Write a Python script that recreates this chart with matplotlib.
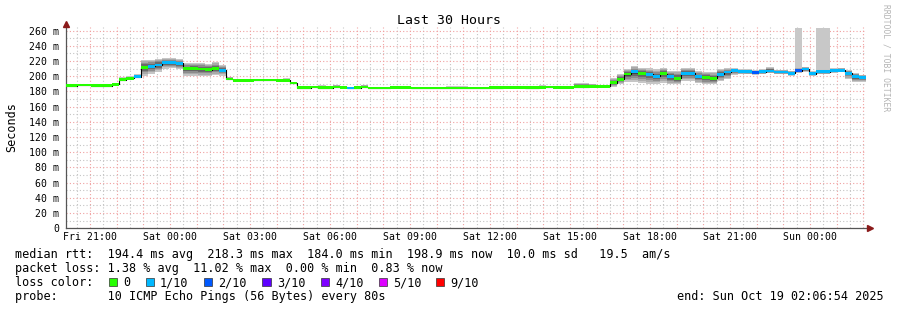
import numpy as np
import matplotlib
matplotlib.use('Agg')
import matplotlib.pyplot as plt
from matplotlib.patches import Rectangle

plt.rcParams['font.family'] = ['DejaVu Sans Mono', 'DejaVu Sans']

W, H = 897, 310

# ---------------- data ----------------
title = "Last 30 Hours"
ylabel = "Seconds"
t_end = 50 + 6 / 60 + 54 / 3600          # hours since Fri 00:00 (Sun 02:06:54)
t_start = t_end - 30
bin_start = 19.967                         # first 16-min consolidation bin (hours)
bin_hours = 16 / 60

median_ms = [
    187.5, 187.5, 188.5, 188.5, 187.5, 187.5, 187.5, 189.5, 195.5, 197.5,
    199.5, 212.0, 213.0, 215.0, 218.0, 218.3, 217.0, 210.0, 210.0, 209.5,
    208.5, 210.0, 208.0, 196.5, 194.5, 194.5, 194.5, 195.0, 195.0, 195.0,
    194.5, 194.5, 191.0, 185.0, 185.0, 186.0, 185.0, 185.0, 186.0, 185.5,
    184.5, 185.0, 186.0, 184.5, 184.5, 184.5, 185.5, 185.5, 185.5, 184.5,
    184.5, 184.5, 184.5, 184.5, 184.5, 184.5, 184.5, 184.5, 184.5, 184.5,
    185.0, 185.0, 185.5, 185.5, 185.5, 185.0, 185.0, 185.5, 186.0, 185.5,
    185.5, 185.5, 186.5, 186.5, 187.0, 187.0, 187.0, 191.5, 196.0, 203.0,
    206.0, 203.5, 202.5, 200.0, 203.5, 199.5, 197.5, 204.0, 204.0, 199.5,
    198.5, 197.5, 202.5, 205.5, 207.5, 206.5, 206.0, 205.0, 206.0, 207.0,
    205.5, 205.5, 204.0, 207.5, 209.5, 203.5, 206.0, 206.0, 207.5, 208.0,
    204.0, 199.5, 198.0,
]
loss_tenths = [
    0, 0, 0, 0, 0, 0, 0, 0, 0, 0,
    1, 0, 1, 1, 1, 1, 1, 0, 0, 0,
    0, 0, 1, 0, 0, 0, 0, 0, 0, 0,
    0, 0, 0, 0, 0, 0, 0, 0, 0, 0,
    1, 0, 0, 0, 0, 0, 0, 0, 0, 0,
    0, 0, 0, 0, 0, 0, 0, 0, 0, 0,
    0, 0, 0, 0, 0, 0, 0, 0, 0, 0,
    0, 0, 0, 0, 0, 0, 0, 0, 0, 0,
    1, 0, 1, 1, 0, 1, 0, 1, 1, 1,
    0, 0, 1, 1, 1, 1, 1, 2, 1, 1,
    1, 1, 1, 2, 1, 1, 1, 1, 1, 1,
    1, 1, 1,
]
smoke_up = [
    1.5, 3, 2, 2, 1.5, 1.5, 1.5, 2, 3, 2.5,
    3, 10, 9, 8, 6, 5.5, 6, 7, 8, 8,
    8, 9, 7, 3, 1, 1, 1, 1.5, 1.5, 1,
    1, 3, 1, 1, 1, 1.5, 3, 1, 3, 1,
    1, 1, 3, 1, 1, 1, 2, 2, 2, 1,
    1, 1, 1, 1, 2.5, 2.5, 2.5, 1, 1, 1,
    1, 2.5, 1, 1, 1, 2.5, 2.5, 2.5, 1, 1,
    1, 1.5, 5, 5, 3, 2, 2, 6, 7, 7,
    7, 8, 8, 9, 8, 8, 10, 7, 7, 7,
    7, 8, 7, 5, 3, 3, 3, 3, 3, 5,
    3, 3, 3, 4, 3, 3, 3, 3, 3, 3,
    4, 5, 4,
]
smoke_dn = [
    1, 1, 1, 1, 1, 1, 1, 1, 1.5, 1.5,
    2, 11, 10, 9, 8, 8, 8, 9, 9, 9,
    8, 8, 7, 1.5, 0.5, 0.5, 0.5, 0.5, 0.5, 0.5,
    0.5, 0.5, 0.5, 0.5, 0.5, 0.5, 0.5, 0.5, 0.5, 0.5,
    0.5, 0.5, 0.5, 0.5, 0.5, 0.5, 0.5, 0.5, 0.5, 0.5,
    0.5, 0.5, 0.5, 0.5, 0.5, 0.5, 0.5, 0.5, 0.5, 0.5,
    0.5, 0.5, 0.5, 0.5, 0.5, 0.5, 0.5, 1, 0.5, 0.5,
    0.5, 0.5, 2, 2, 1, 0.5, 1, 5, 6, 10,
    13, 12, 12, 10, 12, 10, 8, 10, 10, 8,
    9, 8, 9, 9, 6, 4, 3, 3, 3, 3,
    3, 3, 3, 3, 4, 3, 3, 3, 3, 3,
    7, 7, 5,
]
outlier_max_ms = {103: 264, 106: 264, 107: 264}

loss_colors = {0: '#26ff00', 1: '#00b8ff', 2: '#0059ff', 3: '#5e00ff',
               4: '#7e00ff', 5: '#dd00ff', 9: '#ff0000'}
loss_labels = ['0', '1/10', '2/10', '3/10', '4/10', '5/10', '9/10']
loss_keys = [0, 1, 2, 3, 4, 5, 9]

tick_hours = [21, 24, 27, 30, 33, 36, 39, 42, 45, 48]
tick_labels = ["Fri 21:00", "Sat 00:00", "Sat 03:00", "Sat 06:00", "Sat 09:00",
               "Sat 12:00", "Sat 15:00", "Sat 18:00", "Sat 21:00", "Sun 00:00"]
y_ticks = list(range(0, 261, 20))
y_tick_labels = ["0"] + [f"{v} m" for v in y_ticks[1:]]

rtt_line = "median rtt:  194.4 ms avg  218.3 ms max  184.0 ms min  198.9 ms now  10.0 ms sd   19.5  am/s"
loss_line = "packet loss: 1.38 % avg  11.02 % max  0.00 % min  0.83 % now"
probe_line = "probe:       10 ICMP Echo Pings (56 Bytes) every 80s"
end_line = "end: Sun Oct 19 02:06:54 2025"
watermark = "RRDTOOL / TOBI OETIKER"

# ---------------- figure ----------------
fig = plt.figure(figsize=(W / 100, H / 100), dpi=100, facecolor='white')

def fx(x):
    return x / W

def fy(y):
    return 1 - y / H

ax_l, ax_r, ax_t, ax_b = 66.4, 866.4, 26.5, 228.3
ax = fig.add_axes([fx(ax_l), fy(ax_b), (ax_r - ax_l) / W, (ax_b - ax_t) / H])
ax.set_facecolor('white')
ax.set_xlim(t_start, t_end)
ax.set_ylim(0, 265.5)

n = len(median_ms)
med = np.array(median_ms, dtype=float)
up = np.array(smoke_up, dtype=float)
dn = np.array(smoke_dn, dtype=float)
starts = bin_start + np.arange(n) * bin_hours
edges = np.append(starts, starts[-1] + bin_hours)
ext = lambda a: np.append(a, a[-1])

# grid
ax.set_xticks(np.arange(21, 51, 1))
ax.set_xticklabels([tick_labels[tick_hours.index(h)] if h in tick_hours else ''
                    for h in range(21, 51)])
ax.set_xticks(np.arange(20.5, 50.2, 0.5), minor=True)
ax.set_yticks(y_ticks)
ax.set_yticklabels(y_tick_labels)
ax.set_yticks(np.arange(10, 266, 10), minor=True)
ax.grid(which='major', color='#f0a0a0', linestyle=(0, (1, 2)), linewidth=0.8)
ax.grid(which='minor', color='#c4c4c4', linestyle=(0, (1, 2)), linewidth=0.8)
ax.set_axisbelow(True)
ax.tick_params(which='both', length=0)
ax.tick_params(axis='x', pad=3.0, labelsize=7.1)
ax.tick_params(axis='y', pad=5.0, labelsize=7.1)

# outlier pings
for b, v in outlier_max_ms.items():
    ax.fill_between([edges[b], edges[b + 1]], med[b], v, color='#c8c8c8',
                    linewidth=0, zorder=2)

# smoke
fracs = [1.0, 0.8, 0.6, 0.4, 0.2]
greys = ['#c6c6c6', '#aaaaaa', '#8c8c8c', '#6a6a6a', '#4a4a4a']
for f, c in zip(fracs, greys):
    ax.fill_between(edges, ext(med - f * dn), ext(med + f * up), step='post',
                    color=c, linewidth=0, zorder=3)

# median
ax.step(edges, ext(med), where='post', color='black', linewidth=0.8, zorder=4)
ax.bar(starts, 3.6, bottom=med - 1.8, width=bin_hours, align='edge',
       color=[loss_colors[k] for k in loss_tenths], linewidth=0, zorder=5)

for s in ['top', 'right']:
    ax.spines[s].set_visible(False)
for s in ['left', 'bottom']:
    ax.spines[s].set_color('#555555')
    ax.spines[s].set_linewidth(0.9)

# arrows
ax.plot([0], [1.0 + 2.5 / (ax_b - ax_t)], marker='^', color='#8b1a1a', markersize=4,
        transform=ax.transAxes, clip_on=False, zorder=6)
ax.plot([1.0 + 4 / (ax_r - ax_l)], [0], marker='>', color='#8b1a1a', markersize=4,
        transform=ax.transAxes, clip_on=False, zorder=6)

# texts
fig.text(fx(448.5), fy(24), title, ha='center', va='baseline', fontsize=9.5)
fig.text(fx(12), fy(127), ylabel, ha='center', va='center', rotation=90, fontsize=8.5)
fig.text(fx(886), fy(4), watermark, ha='center', va='top', rotation=270,
         fontsize=5.8, color='#b4b4b4')

fs = 8.45
fig.text(fx(14.5), fy(258), rtt_line, ha='left', va='baseline', fontsize=fs)
fig.text(fx(14.5), fy(272), loss_line, ha='left', va='baseline', fontsize=fs)
fig.text(fx(14.5), fy(286), "loss color:", ha='left', va='baseline', fontsize=fs)
label_x = [123, 160, 218.3, 276.7, 335, 393.3, 450]
for lx, key, lab in zip(label_x, loss_keys, loss_labels):
    fig.patches.append(Rectangle((fx(lx - 14.5), fy(286)), 8.5 / W, 8.5 / H,
                                 transform=fig.transFigure, facecolor=loss_colors[key],
                                 edgecolor='#333333', linewidth=0.5))
    fig.text(fx(lx), fy(286), lab, ha='left', va='baseline', fontsize=fs)
fig.text(fx(14.5), fy(300), probe_line, ha='left', va='baseline', fontsize=fs)
fig.text(fx(884), fy(300), end_line, ha='right', va='baseline', fontsize=fs)

fig.savefig('out.png', dpi=100, facecolor='white')
